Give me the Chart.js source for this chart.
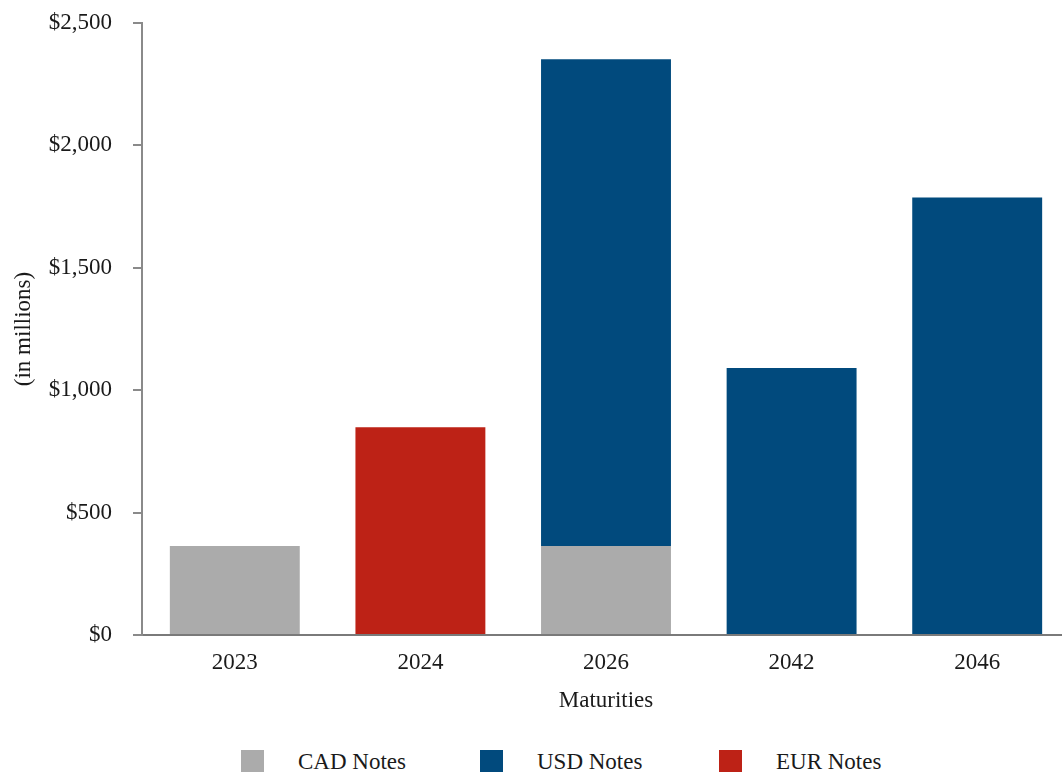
<!DOCTYPE html>
<html>
<head>
<meta charset="utf-8">
<script src="https://cdn.jsdelivr.net/npm/chart.js@4.4.0/dist/chart.umd.min.js"></script>
<style>
  html, body { margin: 0; padding: 0; background: #fff; overflow: hidden; }
  body { width: 1062px; height: 772px; position: relative; }
  #wrap { position: absolute; left: 0; top: 0; width: 1072px; height: 740px; }
  #legend { position: absolute; left: 241px; top: 750px; display: flex;
            font-family: "Liberation Serif", "Times New Roman", serif; font-size: 23px; color: #1a1a1a; }
  .item { width: 239px; display: flex; align-items: center; height: 24px; }
  .box { width: 23px; height: 24px; margin-right: 34px; flex: none; }
</style>
</head>
<body>
<div id="wrap"><canvas id="chart" width="1072" height="740"></canvas></div>
<div id="legend"></div>
<script>
const maturities = ['2023', '2024', '2026', '2042', '2046'];
const cadNotes = [364, 0, 364, 0, 0];
const usdNotes = [0, 0, 1988, 1091, 1787];
const eurNotes = [0, 849, 0, 0, 0];
const yTicks = [0, 500, 1000, 1500, 2000, 2500];

const font = { family: '"Liberation Serif", "Times New Roman", serif', size: 23 };
const textColor = '#1a1a1a';
const axisColor = '#8a8a8a';

document.addEventListener('DOMContentLoaded', function() {
    const ctx = document.getElementById('chart').getContext('2d');

    const chart = new Chart(ctx, {
        type: 'bar',
        data: {
            labels: maturities,
            datasets: [
                { label: 'CAD Notes', data: cadNotes, backgroundColor: '#ababab' },
                { label: 'USD Notes', data: usdNotes, backgroundColor: '#014a7d' },
                { label: 'EUR Notes', data: eurNotes, backgroundColor: '#bd2216' }
            ]
        },
        options: {
            responsive: false,
            animation: false,
            layout: { padding: { top: 23, right: 2, left: 0, bottom: 0 } },
            datasets: { bar: { categoryPercentage: 1, barPercentage: 0.7 } },
            plugins: { legend: { display: false }, tooltip: { enabled: false } },
            scales: {
                x: {
                    stacked: true,
                    grid: { display: false, drawTicks: false },
                    border: { display: true, color: '#7a7a7a', width: 2 },
                    ticks: { color: textColor, font: font, padding: 14, maxRotation: 0 },
                    title: { display: true, text: 'Maturities', color: textColor, font: font,
                             padding: { top: 0, bottom: 25 } },
                    afterFit: function(scale) {
                        scale.height = 105;
                        scale.paddingLeft = 0;
                        scale.paddingRight = 0;
                    }
                },
                y: {
                    stacked: true,
                    min: 0,
                    max: 2500,
                    afterBuildTicks: function(scale) {
                        scale.ticks = yTicks.map(v => ({ value: v }));
                    },
                    grid: { drawOnChartArea: false, drawTicks: true, tickLength: 9,
                            color: axisColor, lineWidth: 2 },
                    border: { display: true, color: axisColor, width: 2 },
                    ticks: {
                        color: textColor, font: font, padding: 21,
                        callback: function(value) { return '$' + value.toLocaleString('en-US'); }
                    },
                    title: { display: true, text: '(in millions)', color: textColor, font: font,
                             padding: { top: 10, bottom: 0 } },
                    afterFit: function(scale) {
                        scale.width = 142;
                        scale.paddingTop = 0;
                        scale.paddingBottom = 0;
                    }
                }
            }
        }
    });

    // legend built from the datasets
    const legend = document.getElementById('legend');
    chart.data.datasets.forEach(function(ds) {
        const item = document.createElement('div');
        item.className = 'item';
        const box = document.createElement('span');
        box.className = 'box';
        box.style.background = ds.backgroundColor;
        const label = document.createElement('span');
        label.textContent = ds.label;
        item.appendChild(box);
        item.appendChild(label);
        legend.appendChild(item);
    });
});
</script>
</body>
</html>
